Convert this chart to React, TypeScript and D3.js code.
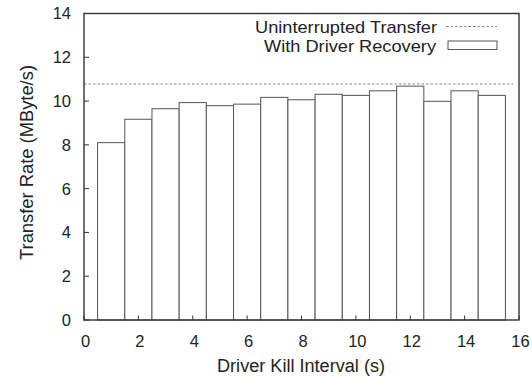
import React from "react";
import * as d3 from "d3";

const intervals = [1, 2, 3, 4, 5, 6, 7, 8, 9, 10, 11, 12, 13, 14, 15];
const recoveryRates = [8.1, 9.17, 9.65, 9.93, 9.79, 9.86, 10.17, 10.06, 10.31, 10.26, 10.47, 10.68, 9.99, 10.47, 10.26];
const uninterruptedRate = 10.78;
const xTicks = [0, 2, 4, 6, 8, 10, 12, 14, 16];
const yTicks = [0, 2, 4, 6, 8, 10, 12, 14];
const legendLabels = ["Uninterrupted Transfer", "With Driver Recovery"];
const xTitle = "Driver Kill Interval (s)";
const yTitle = "Transfer Rate (MByte/s)";

const W = 532;
const H = 377;
const M = { left: 84, right: 13, top: 13.5, bottom: 57 };

export default function App() {
  const x = d3.scaleLinear().domain([0, 16]).range([M.left, W - M.right]);
  const y = d3.scaleLinear().domain([0, 14]).range([H - M.bottom, M.top]);
  const font = "'Liberation Sans', Arial, Helvetica, sans-serif";
  const textColor = "#222";
  const x0 = x(0), x1 = x(16), y0 = y(0), y1 = y(14);

  return (
    <svg
      width={W}
      height={H}
      style={{ position: "absolute", left: 0, top: 0, background: "#fff" }}
      fontFamily={font}
    >
      <rect x={0} y={0} width={W} height={H} fill="#fff" />
      {/* dashed uninterrupted line */}
      <line
        x1={x0}
        x2={x1 - 6}
        y1={y(uninterruptedRate)}
        y2={y(uninterruptedRate)}
        stroke="#888"
        strokeWidth={1}
        strokeDasharray="2.5,2"
      />
      {/* bars */}
      {intervals.map((v, i) => (
        <rect
          key={v}
          x={x(v - 0.5)}
          y={y(recoveryRates[i])}
          width={x(v + 0.5) - x(v - 0.5)}
          height={y0 - y(recoveryRates[i])}
          fill="#fff"
          stroke="#555"
          strokeWidth={1}
        />
      ))}
      {/* ticks */}
      {yTicks.map((t) => (
        <g key={"y" + t}>
          <line x1={x0} x2={x0 + 5} y1={y(t)} y2={y(t)} stroke="#333" strokeWidth={1} />
          <text
            x={x0 - 13}
            y={y(t)}
            dy="0.36em"
            textAnchor="end"
            fontSize={16.5}
            fill={textColor}
          >
            {t}
          </text>
        </g>
      ))}
      {xTicks.map((t) => (
        <g key={"x" + t}>
          <line x1={x(t)} x2={x(t)} y1={y0} y2={y0 - 4.5} stroke="#333" strokeWidth={1} />
          <text x={x(t) + 1.5} y={y0 + 27} textAnchor="middle" fontSize={16.5} fill={textColor}>
            {t}
          </text>
        </g>
      ))}
      {/* frame */}
      <rect
        x={x0}
        y={y1}
        width={x1 - x0}
        height={y0 - y1}
        fill="none"
        stroke="#333"
        strokeWidth={1.4}
      />
      {/* legend */}
      <text
        x={255}
        y={33}
        fontSize={17}
        fill={textColor}
        textLength={182}
        lengthAdjust="spacingAndGlyphs"
      >
        {legendLabels[0]}
      </text>
      <line x1={446} x2={497} y1={26.5} y2={26.5} stroke="#888" strokeWidth={1} strokeDasharray="2.5,2" />
      <text
        x={264}
        y={51.5}
        fontSize={17}
        fill={textColor}
        textLength={172}
        lengthAdjust="spacingAndGlyphs"
      >
        {legendLabels[1]}
      </text>
      <rect x={448} y={41} width={49} height={8.5} fill="#fff" stroke="#555" strokeWidth={1} />
      {/* axis titles */}
      <text
        x={217}
        y={371.5}
        fontSize={18}
        fill={textColor}
        textLength={168}
        lengthAdjust="spacingAndGlyphs"
      >
        {xTitle}
      </text>
      <text
        transform={`translate(33,260) rotate(-90)`}
        fontSize={18}
        fill={textColor}
        textLength={195}
        lengthAdjust="spacingAndGlyphs"
      >
        {yTitle}
      </text>
    </svg>
  );
}
